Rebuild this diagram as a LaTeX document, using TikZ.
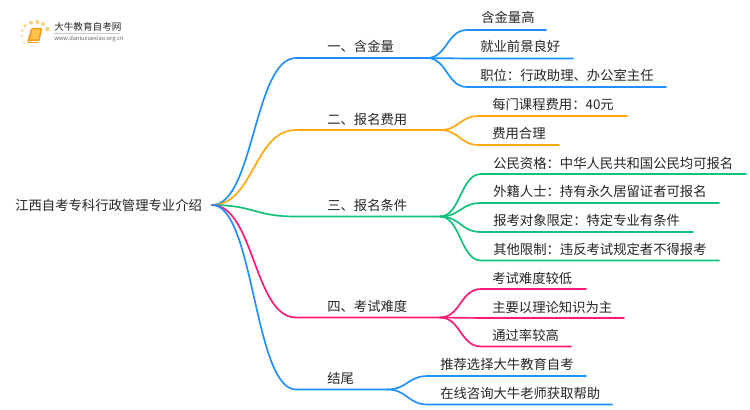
\documentclass[tikz,border=0pt]{standalone}
\usepackage{fontspec}
\setmainfont{Noto Sans CJK SC}
\usetikzlibrary{calc}
\definecolor{topicblue}{HTML}{1E90FF}
\definecolor{topicorange}{HTML}{FFA90F}
\definecolor{topicgreen}{HTML}{12C27A}
\definecolor{topicpink}{HTML}{FF1A75}
\definecolor{labelgrey}{HTML}{262626}
\definecolor{logoorange}{HTML}{F59A1B}
\definecolor{logopage}{HTML}{FCC24A}
\definecolor{logodot}{HTML}{FBD27A}
\tikzset{
    label/.style={anchor=base west,inner sep=0pt,text=labelgrey,font=\fontsize{10pt}{12pt}\selectfont},
    link/.style={line width=1.25pt,line cap=round,to path={.. controls ($(\tikztostart)!0.5!(\tikztotarget|-\tikztostart)$) and ($(\tikztotarget)!0.5!(\tikztostart|-\tikztotarget)$) .. (\tikztotarget)}},
}
\begin{document}
\begin{tikzpicture}[x=0.75pt,y=-0.75pt]%
        \useasboundingbox (0,0) rectangle (750,410);%
        \fill[white] (0,0) rectangle (750,410);%
        % logo
        \fill[logodot] (25,25.7) circle(1.7);%
        \fill[logodot] (31,22.7) circle(2);%
        \fill[logodot] (37.3,22) circle(2);%
        \fill[logodot] (43,24) circle(2);%
        \fill[logodot] (47.3,29) circle(2.3);%
        \fill[logodot] (22.3,30.7) circle(1.3);%
        \fill[logodot] (21.7,35.7) circle(1.2);%
        \fill[logodot] (24,42.3) circle(1);%
        \fill[logoorange,rounded corners=1] (31,28) -- (42.5,28) -- (39,43) -- (27,43) -- cycle;%
        \fill[logopage] (32.5,29.5) -- (40.5,29.5) -- (38,39.5) -- (30,39.5) -- cycle;%
        \draw[white,line width=0.4pt] (28.5,41) -- (38.5,41);%
        \node[anchor=base west,inner sep=0pt,text=labelgrey,font=\fontsize{7.2pt}{9pt}\selectfont] (logoname) at (54,30.5) {大牛教育自考网};%
        \draw[black!20,line width=0.4pt] (54,33.5) -- (120,33.5);%
        \node[anchor=base west,inner sep=0pt,text=black!60,font=\fontsize{4.3pt}{6pt}\selectfont] (logourl) at (54,40.5) {www.daniuxuexiao.org.cn};%
        % root
        \node[label] (root) at (15,210) {江西自考专科行政管理专业介绍};%
        \coordinate (rootend) at (212,205);%
        % one
        \coordinate (one) at (296,58);%
        \coordinate (onefork) at (427,58);%
        \node[label] (onelabel) at (327,52) {一、含金量};%
        \draw[link,topicblue] (rootend) to (one) -- (onefork);%
        \coordinate (onea) at (467,30);%
        \coordinate (oneaend) at (546,30);%
        \coordinate (oneb) at (467,58.5);%
        \coordinate (onebend) at (573,58.5);%
        \coordinate (onec) at (467,87);%
        \coordinate (onecend) at (666,87);%
        \node[label] (onealabel) at (481,23) {含金量高};%
        \node[label] (oneblabel) at (480,52) {就业前景良好};%
        \node[label] (oneclabel) at (480,81) {职位：行政助理、办公室主任};%
        \draw[link,topicblue] (onefork) to (onea) -- (oneaend);%
        \draw[link,topicblue] (onefork) to (oneb) -- (onebend);%
        \draw[link,topicblue] (onefork) to (onec) -- (onecend);%
        % two
        \coordinate (two) at (296,130);%
        \coordinate (twofork) at (440,130);%
        \node[label] (twolabel) at (327,124) {二、报名费用};%
        \draw[link,topicorange] (rootend) to (two) -- (twofork);%
        \coordinate (twoa) at (479,116);%
        \coordinate (twoaend) at (627,116);%
        \coordinate (twob) at (479,145);%
        \coordinate (twobend) at (559,145);%
        \node[label] (twoalabel) at (492,110) {每门课程费用：40元};%
        \node[label] (twoblabel) at (492,138) {费用合理};%
        \draw[link,topicorange] (twofork) to (twoa) -- (twoaend);%
        \draw[link,topicorange] (twofork) to (twob) -- (twobend);%
        % three
        \coordinate (three) at (296,216.5);%
        \coordinate (threefork) at (440,216.5);%
        \node[label] (threelabel) at (327,210) {三、报名条件};%
        \draw[link,topicgreen] (rootend) to (three) -- (threefork);%
        \coordinate (threea) at (481,174);%
        \coordinate (threeaend) at (746,174);%
        \coordinate (threeb) at (481,203);%
        \coordinate (threebend) at (719,203);%
        \coordinate (threec) at (481,232);%
        \coordinate (threecend) at (693,232);%
        \coordinate (threed) at (481,260.5);%
        \coordinate (threedend) at (719,260.5);%
        \node[label] (threealabel) at (493,168) {公民资格：中华人民共和国公民均可报名};%
        \node[label] (threeblabel) at (493,196) {外籍人士：持有永久居留证者可报名};%
        \node[label] (threeclabel) at (493,225) {报考对象限定：特定专业有条件};%
        \node[label] (threedlabel) at (493,254) {其他限制：违反考试规定者不得报考};%
        \draw[link,topicgreen] (threefork) to (threea) -- (threeaend);%
        \draw[link,topicgreen] (threefork) to (threeb) -- (threebend);%
        \draw[link,topicgreen] (threefork) to (threec) -- (threecend);%
        \draw[link,topicgreen] (threefork) to (threed) -- (threedend);%
        % four
        \coordinate (four) at (296,317.5);%
        \coordinate (fourfork) at (440,317.5);%
        \node[label] (fourlabel) at (327,311) {四、考试难度};%
        \draw[link,topicpink] (rootend) to (four) -- (fourfork);%
        \coordinate (foura) at (481,289);%
        \coordinate (fouraend) at (586,289);%
        \coordinate (fourb) at (481,318);%
        \coordinate (fourbend) at (624,318);%
        \coordinate (fourc) at (481,346.5);%
        \coordinate (fourcend) at (571,346.5);%
        \node[label] (fouralabel) at (492,283) {考试难度较低};%
        \node[label] (fourblabel) at (492,312) {主要以理论知识为主};%
        \node[label] (fourclabel) at (492,340) {通过率较高};%
        \draw[link,topicpink] (fourfork) to (foura) -- (fouraend);%
        \draw[link,topicpink] (fourfork) to (fourb) -- (fourbend);%
        \draw[link,topicpink] (fourfork) to (fourc) -- (fourcend);%
        % ending
        \coordinate (five) at (296,389.5);%
        \coordinate (fivefork) at (387,389.5);%
        \node[label] (fivelabel) at (327,383) {结尾};%
        \draw[link,topicblue] (rootend) to (five) -- (fivefork);%
        \coordinate (fivea) at (428,376);%
        \coordinate (fiveaend) at (586,376);%
        \coordinate (fiveb) at (428,404.5);%
        \coordinate (fivebend) at (612,404.5);%
        \node[label] (fivealabel) at (440,369) {推荐选择大牛教育自考};%
        \node[label] (fiveblabel) at (440,398) {在线咨询大牛老师获取帮助};%
        \draw[link,topicblue] (fivefork) to (fivea) -- (fiveaend);%
        \draw[link,topicblue] (fivefork) to (fiveb) -- (fivebend);%
    \end{tikzpicture}
\end{document}
